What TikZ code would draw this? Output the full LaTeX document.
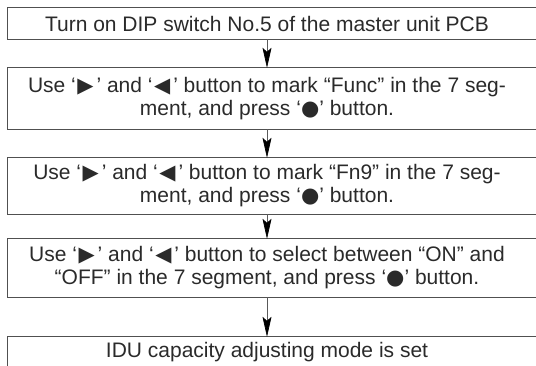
\documentclass[tikz,border=0pt]{standalone}
\usepackage{fontspec}
\setmainfont{Liberation Sans}
\newfontfamily\symfont{DejaVu Sans}
\usetikzlibrary{arrows.meta}
\definecolor{txt}{HTML}{2A2A2A}
\definecolor{frame}{HTML}{505050}
\newcommand{\rtri}{\hspace{1.5pt}{\symfont ▶}\hspace{3pt}}
\newcommand{\ltri}{\hspace{1.5pt}{\symfont ◀}\hspace{3pt}}
\newcommand{\bdot}{{\symfont ●}}
\tikzset{
  stepbox/.style={draw=none, minimum width=518pt, align=center, inner sep=0pt,
    font=\fontsize{21}{23}\selectfont, text=txt},
  frameline/.style={draw=frame, line width=1pt},
  flow/.style={draw=gray!70!black, line width=0.7pt,
    -{Stealth[length=20pt,width=9pt,inset=4pt,black]}}
}
\begin{document}
\begin{tikzpicture}[x=1pt,y=-1pt]
\useasboundingbox (0,0) rectangle (536,365);
\node[stepbox, minimum height=31pt] (b1) at (267,23.5) {Turn on DIP switch No.5 of the master unit PCB};
\node[stepbox, minimum height=61pt] (b2) at (267,98.5) {Use ‘\rtri’ and ‘\ltri’ button to mark “Func” in the 7 seg-\\ment, and press ‘\bdot’ button.};
\node[stepbox, minimum height=56pt] (b3) at (267,186) {Use ‘\rtri’ and ‘\ltri’ button to mark “Fn9” in the 7 seg-\\ment, and press ‘\bdot’ button.};
\node[stepbox, minimum height=58pt] (b4) at (267,268) {Use ‘\rtri’ and ‘\ltri’ button to select between “ON” and\\“OFF” in the 7 segment, and press ‘\bdot’ button.};
\node[stepbox, minimum height=30pt] (b5) at (267,352) {IDU capacity adjusting mode is set};
\foreach \b in {b1,b2,b3,b4,b5}{
  \draw[frameline] (\b.north west) rectangle ([xshift=30pt]\b.south east);
}
\draw[flow] (b1.south) -- (b2.north);
\draw[flow] (b2.south) -- (b3.north);
\draw[flow] (b3.south) -- (b4.north);
\draw[flow] (b4.south) -- (b5.north);
\end{tikzpicture}
\end{document}
